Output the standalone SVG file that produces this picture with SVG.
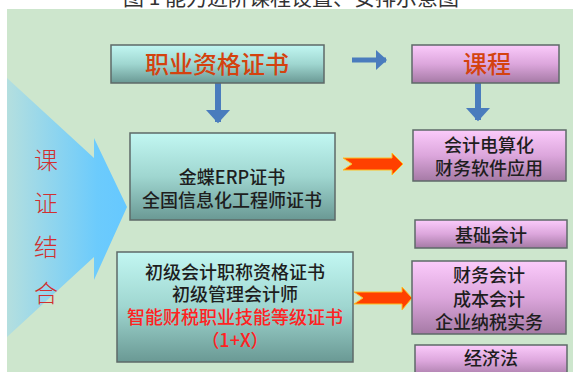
<svg xmlns="http://www.w3.org/2000/svg" width="573" height="372" viewBox="0 0 573 372">
<defs>
<linearGradient id="gCyan" x1="0" y1="0" x2="0" y2="1">
<stop offset="0" stop-color="#c2f7f2"/><stop offset="0.5" stop-color="#9fd6d0"/><stop offset="1" stop-color="#6a9994"/>
</linearGradient>
<linearGradient id="gPink" x1="0" y1="0" x2="0" y2="1">
<stop offset="0" stop-color="#fbcbfb"/><stop offset="0.5" stop-color="#dca6dc"/><stop offset="1" stop-color="#a57aa5"/>
</linearGradient>
<linearGradient id="gBig" x1="0" y1="0" x2="1" y2="0">
<stop offset="0" stop-color="#b4dfdf"/><stop offset="0.75" stop-color="#6ccbfc"/><stop offset="1" stop-color="#66c8ff"/>
</linearGradient>
<marker id="mBlue" markerWidth="4" markerHeight="4" refX="2" refY="2" orient="auto" markerUnits="strokeWidth">
<path d="M0,0 L2.2,2 L0,4 Z" fill="#4a7cbd"/>
</marker>
<style>
.box{stroke:#5e6a68;stroke-width:1.5}
.cyan{fill:url(#gCyan)}
.pink{fill:url(#gPink)}
.t{font-family:"Noto Sans CJK SC","Noto Sans",sans-serif;fill:#1e1e1e;text-anchor:middle;font-size:18px;font-weight:500}
.big{font-family:"Noto Sans CJK SC",sans-serif;fill:#d4420f;text-anchor:middle;font-size:24px;font-weight:500}
.red{fill:#ff2222}
.side{font-family:"Noto Sans CJK SC",sans-serif;fill:#d03030;text-anchor:middle;font-size:24px;font-weight:300}
.blue{stroke:#4a7cbd;fill:none}
.rarrow{fill:#ff4000;stroke:#ffc020;stroke-width:1}
</style>
</defs>
<rect width="573" height="372" fill="#ffffff"/>
<text x="291" y="5" font-family="Noto Sans CJK SC,sans-serif" font-size="21" fill="#333" text-anchor="middle">图 1 能力进阶课程设置、安排示意图</text>
<rect x="7" y="9" width="566" height="363" fill="#cde6cd"/>

<g id="bigArrow">
<path d="M7,78 L94,158 L94,138 L127,207 L94,280 L94,257 L7,337 Z" fill="url(#gBig)"/>
<text class="side" x="46" y="169">课</text>
<text class="side" x="46" y="212">证</text>
<text class="side" x="46" y="256">结</text>
<text class="side" x="46" y="302">合</text>
</g>

<g id="connectors">
<line class="blue" x1="352" y1="60" x2="386" y2="60" marker-end="url(#mBlue)" stroke-width="5"/>
<line class="blue" x1="218" y1="83" x2="218" y2="122" marker-end="url(#mBlue)" stroke-width="6"/>
<line class="blue" x1="478" y1="83" x2="478" y2="120" marker-end="url(#mBlue)" stroke-width="6"/>
<path class="rarrow" d="M343,158 L392,158 L392,153 L403,164 L392,175 L392,170 L343,170 L352,164 Z"/>
<path class="rarrow" d="M354,292 L402,292 L402,287 L412,298 L402,310 L402,304 L354,304 L363,298 Z"/>
</g>

<g id="cert">
<rect class="box cyan" x="111" y="45" width="213" height="38"/>
<text class="big" x="217" y="73">职业资格证书</text>
</g>
<g id="course">
<rect class="box pink" x="412" y="45" width="147" height="38"/>
<text class="big" x="487" y="73">课程</text>
</g>
<g id="erp">
<rect class="box cyan" x="130" y="133" width="205" height="87"/>
<text class="t" x="232" y="184">金蝶ERP证书</text>
<text class="t" x="232" y="207">全国信息化工程师证书</text>
</g>
<g id="dianSuanHua">
<rect class="box pink" x="413" y="130" width="153" height="51"/>
<text class="t" x="489" y="152">会计电算化</text>
<text class="t" x="489" y="175">财务软件应用</text>
</g>
<g id="jichu">
<rect class="box pink" x="415" y="220" width="152" height="28"/>
<text class="t" x="491" y="242">基础会计</text>
</g>
<g id="junior">
<rect class="box cyan" x="117" y="252" width="236" height="110"/>
<text class="t" x="235" y="279">初级会计职称资格证书</text>
<text class="t" x="235" y="301">初级管理会计师</text>
<text class="t red" x="235" y="324">智能财税职业技能等级证书</text>
<text class="t red" x="235" y="347">（1+X）</text>
</g>
<g id="caiwu">
<rect class="box pink" x="412" y="261" width="154" height="73"/>
<text class="t" x="489" y="282">财务会计</text>
<text class="t" x="489" y="306">成本会计</text>
<text class="t" x="489" y="329">企业纳税实务</text>
</g>
<g id="jingji">
<rect class="box pink" x="415" y="345" width="152" height="32"/>
<text class="t" x="491" y="365">经济法</text>
</g>
</svg>
